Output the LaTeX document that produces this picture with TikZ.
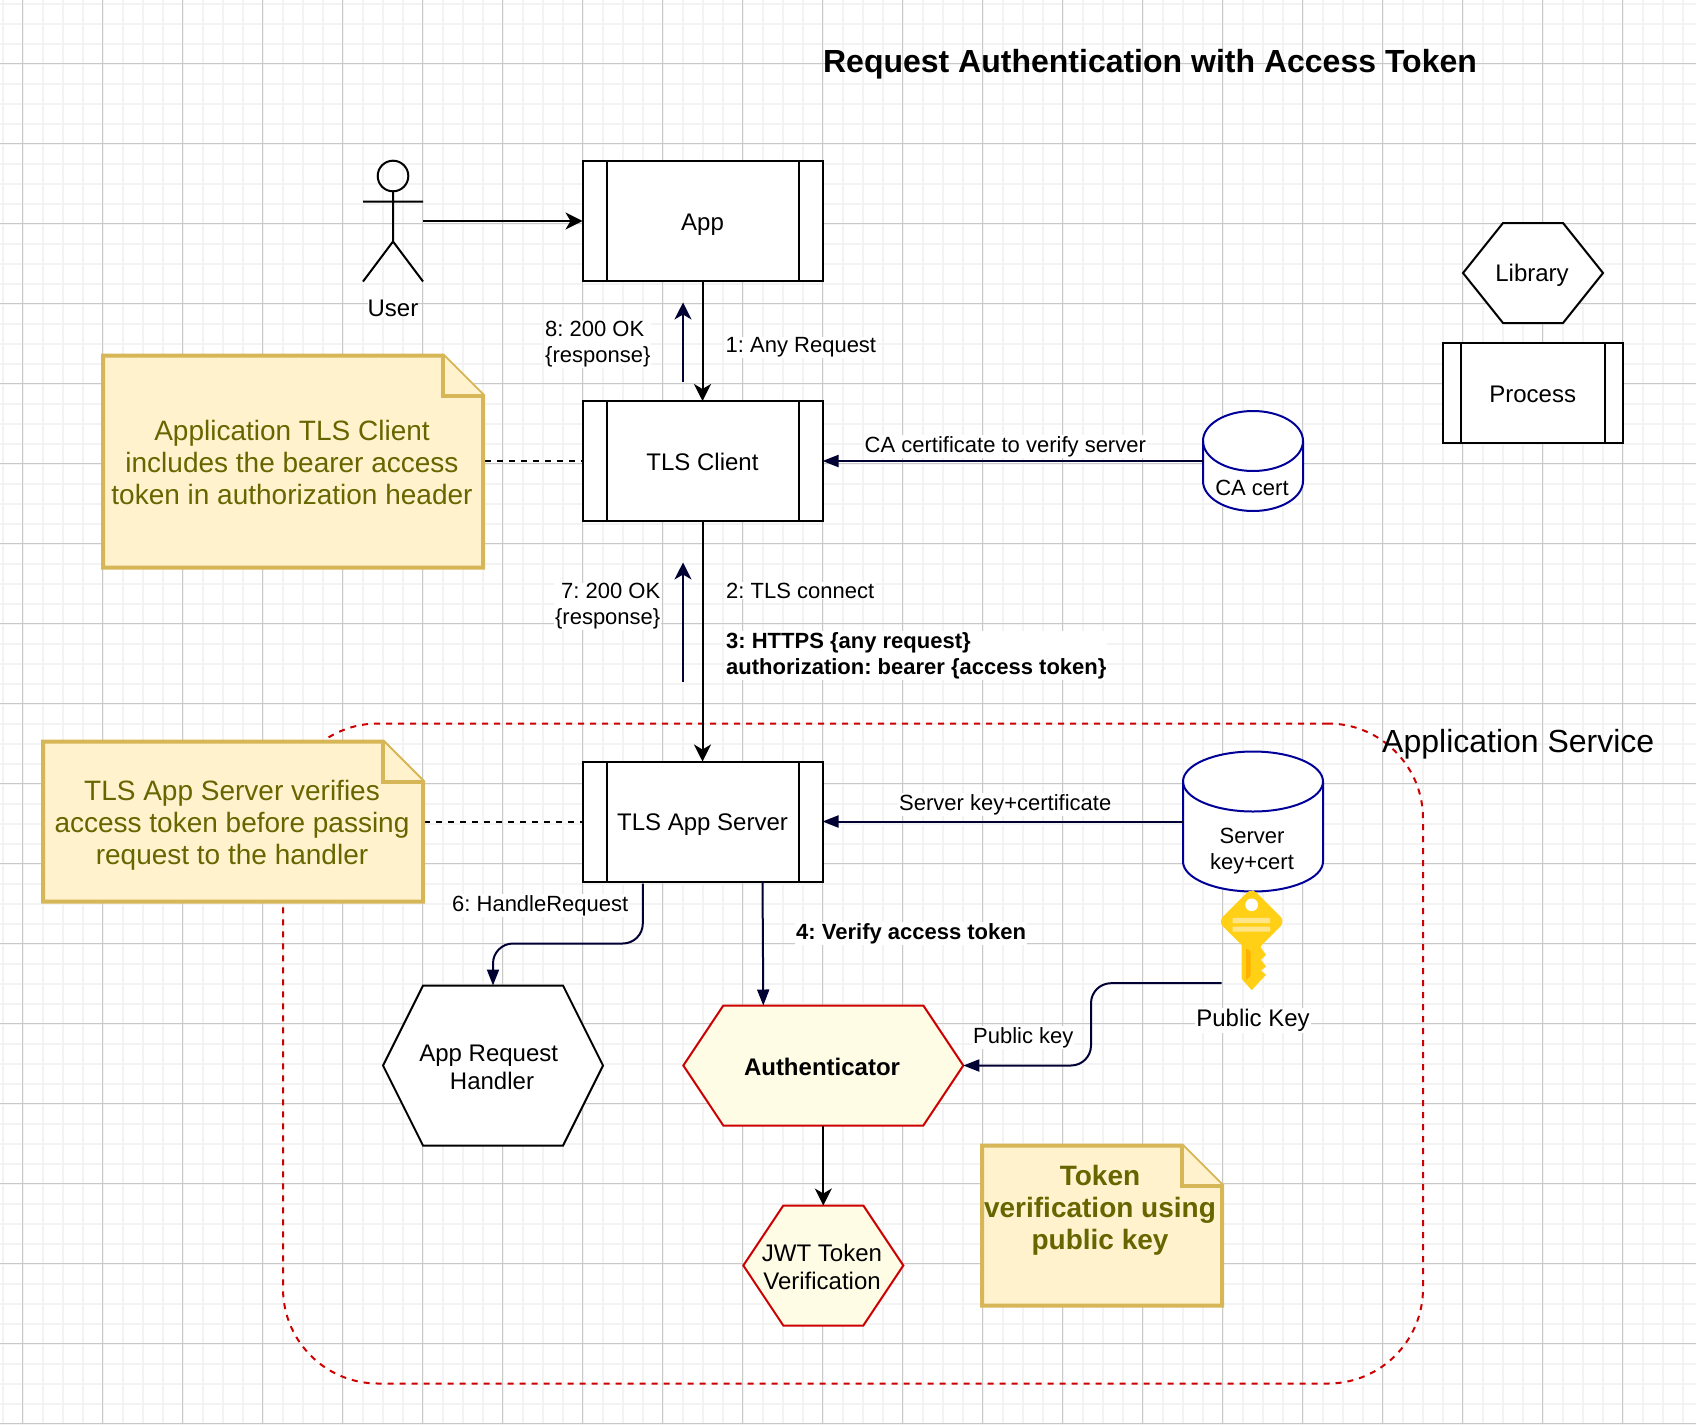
\documentclass[tikz,border=0pt]{standalone}
\usepackage{fontspec}
\setmainfont{Liberation Sans}
\usetikzlibrary{arrows.meta,shapes.symbols}

\definecolor{gridminor}{HTML}{F3F3F3}
\definecolor{gridmajor}{HTML}{C9C9C9}
\definecolor{navyline}{HTML}{000033}
\definecolor{blueline}{HTML}{000099}
\definecolor{redline}{HTML}{CC0000}
\definecolor{palefill}{HTML}{FFFCE6}
\definecolor{notefill}{HTML}{FFF2CC}
\definecolor{noteline}{HTML}{D6B656}
\definecolor{notetext}{HTML}{666600}
\definecolor{keygold}{HTML}{FFD016}
\definecolor{keypale}{HTML}{FFE58A}
\definecolor{keydark}{HTML}{FFB000}

\tikzset{
  process/.style={draw,line width=2pt,fill=white,rectangle,outer sep=0pt,
    minimum width=240pt,minimum height=120pt,text height=23pt,text depth=5pt,font=\fontsize{24}{28}\selectfont,
    path picture={
      \draw[line width=2pt] ([xshift=#1]path picture bounding box.north west) -- ([xshift=#1]path picture bounding box.south west);
      \draw[line width=2pt] ([xshift=-#1]path picture bounding box.north east) -- ([xshift=-#1]path picture bounding box.south east);
    }},
  process/.default=24pt,
  hexbox/.style={draw,line width=2pt,fill=white,outer sep=0pt,shape=signal,signal to=east and west,inner sep=0pt},
  hexred/.style={hexbox,draw=redline,fill=palefill},
  hextext/.style={align=center,inner sep=0pt,font=\fontsize{24}{28}\selectfont},
  store/.style={rectangle,outer sep=0pt,inner sep=0pt},
  storeline/.style={draw=blueline,line width=2pt,fill=white},
  storetext/.style={align=center,inner sep=0pt,font=\fontsize{22}{26}\selectfont},
  flowtip/.style={-{Stealth[length=17pt,width=17pt,inset=5pt]},line width=2pt},
  navytip/.style={-{Stealth[length=17pt,width=17pt,inset=5pt]},line width=2pt,draw=navyline},
  blocktip/.style={-{Triangle[length=16pt,width=12pt]},line width=2pt,draw=navyline},
  linklabel/.style={fill=white,inner sep=1pt,align=left,font=\fontsize{22}{26}\selectfont},
  notebox/.style={rectangle,outer sep=0pt,inner sep=0pt},
  notefold/.style={draw=noteline,fill=notefill,line width=4pt,line join=miter},
  notebody/.style={text=notetext,align=center,inner sep=0pt,font=\fontsize{28}{32}\selectfont},
}

\begin{document}
\frenchspacing
\begin{tikzpicture}[x=1pt,y=-1pt]
  \useasboundingbox (0,-0.5) rectangle (1696,1423.5);

  % grid
  \foreach \gx in {0,...,84}
    \draw[gridminor,line width=2pt] ({2.6+20*\gx},-0.5) -- ({2.6+20*\gx},1423.5);
  \foreach \gy in {0,...,71}
    \draw[gridminor,line width=2pt] (0,{3.3+20*\gy}) -- (1696,{3.3+20*\gy});
  \foreach \gx in {0,...,20}
    \draw[gridmajor,line width=1pt] ({22.6+80*\gx},-0.5) -- ({22.6+80*\gx},1423.5);
  \foreach \gy in {0,...,17}
    \draw[gridmajor,line width=1pt] (0,{63.3+80*\gy}) -- (1696,{63.3+80*\gy});

  % service frame
  \node[draw=redline,line width=2pt,dash pattern=on 6pt off 6pt,rounded corners=95pt,rectangle,outer sep=0pt,
    minimum width=1140pt,minimum height=660pt] (service) at (853,1053) {};

  % processes
  \begin{scope}[every node/.append style={process}]
    \node (app)    at (702.5,220.5) {App};
    \node (client) at (702.5,460.5) {TLS Client};
    \node (server) at (702.5,821) {TLS App Server};
    \node[process=18pt,minimum width=180pt,minimum height=100pt] (legendproc) at (1532.7,392.5) {Process};
  \end{scope}

  % libraries
  \node[hexbox,minimum width=140pt,minimum height=100pt,signal pointer angle=102.68] (legendlib) at (1533,272.5) {};
  \node[hexbox,minimum width=220pt,minimum height=160pt,signal pointer angle=126.87] (handler) at (493,1065) {};
  \node[hexred,minimum width=280pt,minimum height=120pt,signal pointer angle=112.62] (auth) at (823.3,1065) {};
  \node[hexred,minimum width=160pt,minimum height=120pt,signal pointer angle=112.62] (jwt) at (823.3,1265) {};
  \node[hextext] (legendlibtext) at (1532,275) {Library};
  \node[hextext] (handlertext) at (492,1067) {App Request\kern6.5pt\\Handler};
  \node[hextext,font=\fontsize{24}{28}\bfseries] (authtext) at (822,1066) {Authenticator};
  \node[hextext] (jwttext) at (822,1266) {JWT Token\\Verification};

  % stores
  \node[store,minimum width=100pt,minimum height=100pt] (cacert) at (1253,460.5) {};
  \node[store,minimum width=140pt,minimum height=140pt] (keystore) at (1253,821) {};
  \foreach \n/\rx in {cacert/50,keystore/70} {
    \draw[storeline] ([yshift=-30pt]\n.north west) arc[start angle=180,end angle=0,x radius=\rx pt,y radius=30pt]
      -- ([yshift=30pt]\n.south east) arc[start angle=0,end angle=-180,x radius=\rx pt,y radius=30pt] -- cycle;
    \draw[storeline,fill=none] ([yshift=-30pt]\n.north west) arc[start angle=180,end angle=360,x radius=\rx pt,y radius=30pt];
  }
  \node[storetext] (cacerttext) at (1252,487) {CA cert};
  \node[storetext] (keystoretext) at (1252,851) {Server\\key+cert};

  % user
  \node[rectangle,outer sep=0pt,minimum width=60pt,minimum height=120pt] (user) at (393,220.5) {};
  \node[font=\fontsize{24}{28}\selectfont,fill=white,inner sep=0pt] (userlabel) at (393,308) {User};
  \draw[line width=2pt] (393,175.5) circle (15.3pt);
  \draw[line width=2pt] (393,191) -- (393,241) (363,201) -- (423,201) (363,281) -- (393,241) -- (423,281);

  % key
  \begin{scope}[shift={(1150,840)},scale=0.3333]
    \fill[keygold,rounded corners=7pt] (305,142) -- (406,243) -- (305,344) -- (204,243) -- cycle;
    \fill[keygold] (275,300) -- (333,300) -- (333,322) -- (348,343) -- (333,358) -- (348,378) -- (333,390) -- (348,403) -- (305,449) -- (275,415) -- cycle;
    \fill[white] (305,193) circle (19pt);
    \fill[keypale] (248,232) rectangle (360,248) (248,258) rectangle (360,273);
    \fill[keydark] (288,325) -- (302,332) -- (302,405) -- (288,420) -- cycle;
  \end{scope}
  \coordinate (keyport) at (1221.7,982.7);

  % connectors
  \begin{scope}[every edge/.style={draw}]
    \path (user.east) edge[flowtip] (app.west);
    \path (app.south) edge[flowtip] (client.north);
    \path (client.south) edge[flowtip] (server.north);
    \path (auth.south) edge[flowtip] (jwt.north);
    \path (cacert.west) edge[blocktip] (client.east);
    \path (keystore.west) edge[blocktip] (server.east);
  \end{scope}
  \coordinate (reply1) at (683,381);
  \coordinate (reply1top) at (683,302);
  \coordinate (reply2) at (683,681);
  \coordinate (reply2top) at (683,562);
  \draw[navytip] (reply1) -- (reply1top);
  \draw[navytip] (reply2) -- (reply2top);
  \draw[blocktip,rounded corners=20pt] ([xshift=-59.7pt,yshift=-2pt]server.south) -- ++(0,60) -| (handler.north);
  \draw[blocktip] ([xshift=60pt]server.south) -- ([xshift=-60pt]auth.north);
  \draw[blocktip,rounded corners=20pt] (keyport) -| (1091,1065) -- (auth.east);
  \draw[line width=2pt,dash pattern=on 6pt off 6pt] (293,460.5) -- (client.west);
  \draw[line width=2pt,dash pattern=on 6pt off 6pt] (232,821) -- (server.west);

  % link labels
  \node[linklabel,anchor=west] (anyreq) at (724.5,347) {1: Any Request};
  \node[linklabel,anchor=west] (okapp) at (544,344) {8: 200 OK\\\{response\}};
  \node[linklabel,anchor=west] (cafile) at (863.5,446) {CA certificate to verify server};
  \node[linklabel,anchor=west] (tlsconn) at (725,590) {2: TLS connect};
  \node[linklabel,anchor=east,align=right] (okclient) at (661.5,606) {7: 200 OK\\\{response\}};
  \node[linklabel,anchor=west,font=\fontsize{22}{26}\bfseries] (httpsreq) at (725,655) {3: HTTPS \{any request\}\\authorization: bearer \{access token\}};
  \node[linklabel,anchor=west] (keyfile) at (898,804) {Server key+certificate};
  \node[linklabel,anchor=west] (handle) at (451,905) {6: HandleRequest};
  \node[linklabel,anchor=west,font=\fontsize{22}{26}\bfseries] (verify) at (795,933) {4: Verify access token};
  \node[linklabel,anchor=west] (pubkey) at (972,1037) {Public key};
  \node[linklabel,font=\fontsize{24}{28}\selectfont] (pubkeyname) at (1253,1020) {Public Key};

  % notes
  \node[notebox,minimum width=380pt,minimum height=212pt] (noteclient) at (293,461) {};
  \node[notebox,minimum width=380pt,minimum height=160pt] (noteserver) at (233,821) {};
  \node[notebox,minimum width=240pt,minimum height=160pt] (notekey) at (1102,1225) {};
  \foreach \n in {noteclient,noteserver,notekey} {
    \draw[notefold] (\n.north west) -- ([xshift=-40pt]\n.north east) -- ([yshift=-40pt]\n.north east) -- (\n.south east) -- (\n.south west) -- cycle;
    \draw[notefold] ([xshift=-40pt]\n.north east) -- ([xshift=-40pt,yshift=-40pt]\n.north east) -- ([yshift=-40pt]\n.north east);
  }
  \node[notebody] (clienttext) at (292,462) {Application TLS Client\\includes the bearer access\\token in authorization header};
  \node[notebody] (servertext) at (232,825) {TLS App Server verifies\\access token before passing\\request to the handler};
  \node[notebody,font=\fontsize{28}{32}\bfseries] (keytext) at (1100,1210) {Token\\verification using\\public key};

  % titles
  \node[inner sep=0pt,font=\fontsize{32}{36}\bfseries] (title) at (1150,64) {Request Authentication with Access Token};
  \node[inner sep=0pt,anchor=west,font=\fontsize{32}{36}\selectfont] (servicename) at (1382,744) {Application Service};
\end{tikzpicture}
\end{document}
